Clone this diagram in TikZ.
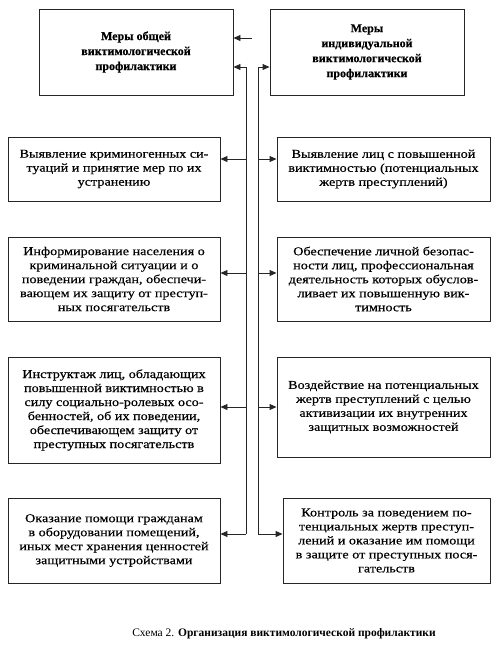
\documentclass[tikz,border=0pt]{standalone}
\usepackage{fontspec}
\setmainfont{Liberation Serif}[FakeStretch=1.18, FakeBold=0.4, BoldFeatures={FakeStretch=1.0}]
\newfontfamily\capfont{Liberation Serif}
\usetikzlibrary{arrows.meta}
\begin{document}
\begin{tikzpicture}[x=1pt,y=-1pt,
  box/.style={draw=black!85, line width=0.9pt, inner sep=0pt, align=center,
    font=\fontsize{12}{14}\selectfont},
  topbox/.style={box, font=\fontsize{12}{15}\selectfont\bfseries},
  arr/.style={draw=black!85, line width=0.9pt, -{Triangle[length=7pt,width=6pt]}},
  trunk/.style={draw=black!85, line width=0.9pt}]
\useasboundingbox (0,0) rectangle (500,651);
\node[topbox, minimum width=194pt, minimum height=86pt] (topL) at (136,52)
  {Меры общей\\виктимологической\\профилактики};
\node[topbox, minimum width=194pt, minimum height=86pt] (topR) at (367,52)
  {Меры\\индивидуальной\\виктимологической\\профилактики};
\node[box, minimum width=212pt, minimum height=64pt] (L1) at (114,169)
  {Выявление криминогенных си-\\туаций и принятие мер по их\\устранению};
\node[box, minimum width=213pt, minimum height=64pt] (R1) at (383.5,169)
  {Выявление лиц с повышенной\\виктимностью (потенциальных\\жертв преступлений)};
\node[box, minimum width=212pt, minimum height=84pt] (L2) at (114,279)
  {Информирование населения о\\криминальной ситуации и о\\поведении граждан, обеспечи-\\вающем их защиту от преступ-\\ных посягательств};
\node[box, minimum width=213pt, minimum height=84pt] (R2) at (383.5,279)
  {Обеспечение личной безопас-\\ности лиц, профессиональная\\деятельность которых обуслов-\\ливает их повышенную вик-\\тимность};
\node[box, minimum width=212pt, minimum height=106pt] (L3) at (114,410)
  {Инструктаж лиц, обладающих\\повышенной виктимностью в\\силу социально-ролевых осо-\\бенностей, об их поведении,\\обеспечивающем защиту от\\преступных посягательств};
\node[box, minimum width=213pt, minimum height=100pt] (R3) at (383.5,407)
  {Воздействие на потенциальных\\жертв преступлений с целью\\активизации их внутренних\\защитных возможностей};
\node[box, minimum width=212pt, minimum height=85pt] (L4) at (114,540.5)
  {Оказание помощи гражданам\\в оборудовании помещений,\\иных мест хранения ценностей\\защитными устройствами};
\node[box, minimum width=207pt, minimum height=85pt] (R4) at (386.5,540.5)
  {Контроль за поведением по-\\тенциальных жертв преступ-\\лений и оказание им помощи\\в защите от преступных пося-\\гательств};
\node[font=\fontsize{11.5}{14}\selectfont] (cap) at (284,634)
  {\capfont Схема 2. \textbf{Организация виктимологической профилактики}};
% trunk coordinates
\coordinate (a0) at (252,38);
\coordinate (tL0) at (246,67);
\coordinate (tL1) at (246,159);
\coordinate (tL2) at (246,273);
\coordinate (tL3) at (246,407);
\coordinate (tL4) at (246,534);
\coordinate (tR0) at (258,67);
\coordinate (tR1) at (258,159);
\coordinate (tR2) at (258,273);
\coordinate (tR3) at (258,407);
\coordinate (tR4) at (258,534);
\draw[arr] (a0) -- (a0 -| topL.east);
\draw[trunk] (tL0) -- (tL4);
\draw[trunk] (tR0) -- (tR4);
\draw[arr] (tL0) -- (tL0 -| topL.east);
\draw[arr] (tR0) -- (tR0 -| topR.west);
\draw[arr] (tL1) -- (tL1 -| L1.east);
\draw[arr] (tL2) -- (tL2 -| L2.east);
\draw[arr] (tL3) -- (tL3 -| L3.east);
\draw[arr] (tL4) -- (tL4 -| L4.east);
\draw[arr] (tR1) -- (tR1 -| R1.west);
\draw[arr] (tR2) -- (tR2 -| R2.west);
\draw[arr] (tR3) -- (tR3 -| R3.west);
\draw[arr] (tR4) -- (tR4 -| R4.west);
\end{tikzpicture}
\end{document}
